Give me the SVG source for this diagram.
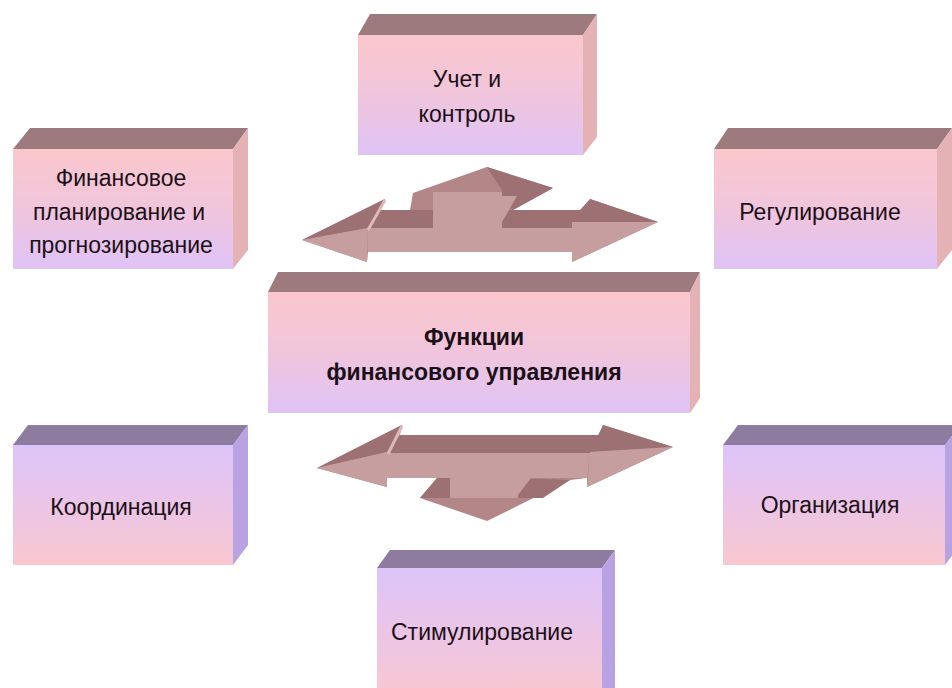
<svg xmlns="http://www.w3.org/2000/svg" width="952" height="688" viewBox="0 0 952 688">
<defs>
<linearGradient id="gPink" x1="0" y1="0" x2="0" y2="1">
<stop offset="0" stop-color="#fac7cc"/>
<stop offset="0.5" stop-color="#f0c5dc"/>
<stop offset="1" stop-color="#dfc3f6"/>
</linearGradient>
<linearGradient id="gLav" x1="0" y1="0" x2="0" y2="1">
<stop offset="0" stop-color="#dcc4fa"/>
<stop offset="0.5" stop-color="#ebc5e6"/>
<stop offset="1" stop-color="#f9c7cf"/>
</linearGradient>
<style>
.tp{fill:#9c7a7e}
.sp{fill:#e4b1b4}
.tl{fill:#8d7ba0}
.sl{fill:#b8a2e2}
.fp{fill:url(#gPink)}
.fl{fill:url(#gLav)}
text{font-family:"Liberation Sans",Arial,sans-serif;font-size:23px;fill:#1c1018;text-anchor:middle}
.b{font-weight:bold}
.am{fill:#b38687}
.ad{fill:#9d7073}
.al{fill:#c79e9f}
.ah{stroke:#dcb9ba;stroke-width:3;fill:none}
</style>
</defs>
<rect width="952" height="688" fill="#ffffff"/>

<g id="connectors">
<g id="arrow-top">
<polygon class="am" points="302,240 385,199 378,210 410,210 413,193 487,167 553,188 513,210 588,210 590,199 658,222 572,262 572,252 368,252 367,262"/>
<polygon class="ad" points="302,240 385,199 368,228"/>
<polygon class="ad" points="378,210 433,210 433,228 370,228"/>
<polygon class="ad" points="502,210 588,210 582,228 502,228"/>
<polygon class="ad" points="590,199 658,222 572,222 580,210"/>
<polygon class="ad" points="487,167 553,188 513,210 502,205 502,190"/>
<polygon class="al" points="302,240 368,228 367,262"/>
<polygon class="al" points="368,228 582,228 572,252 368,252"/>
<polygon class="al" points="572,222 658,222 572,262"/>
<polygon class="al" points="433,192 502,192 502,252 433,252"/>
<polygon class="al" points="502,196 517,196 502,222"/>
<line class="ah" x1="385" y1="200" x2="368" y2="230"/>
</g>
<g id="arrow-bottom">
<polygon class="am" points="317,468 402,425 400,435 600,435 603,425 673,447 587,487 587,478 570,480 487,521 420,498 437,478 387,478 387,487"/>
<polygon class="ad" points="317,468 402,425 387,452"/>
<polygon class="ad" points="603,425 673,447 590,452"/>
<polygon class="ad" points="400,435 600,435 590,453 387,453"/>
<polygon class="ad" points="437,478 450,478 450,498 420,498"/>
<polygon class="ad" points="518,478 570,480 543,498 518,498"/>
<polygon class="al" points="317,468 387,452 387,487"/>
<polygon class="al" points="590,452 673,447 587,487"/>
<polygon class="al" points="387,453 590,453 587,478 387,478"/>
<polygon class="al" points="450,453 518,453 518,498 450,498"/>
<polygon class="al" points="518,478 531,478 518,495"/>
<line class="ah" x1="402" y1="426" x2="388" y2="454"/>
</g>
</g>

<g id="node-uchet">
<polygon class="tp" points="358,35 370,14 597,14 583,35"/>
<polygon class="sp" points="583,35 597,14 597,137 583,155"/>
<rect class="fp" x="358" y="35" width="225" height="120"/>
<text x="467" y="87">Учет и</text>
<text x="467" y="122">контроль</text>
</g>

<g id="node-plan">
<polygon class="tp" points="13,149 30,128 248,128 233,149"/>
<polygon class="sp" points="233,149 248,128 248,250 233,269"/>
<rect class="fp" x="13" y="149" width="220" height="120"/>
<text x="121" y="186">Финансовое</text>
<text x="119" y="220">планирование и</text>
<text x="121" y="253">прогнозирование</text>
</g>

<g id="node-reg">
<polygon class="tp" points="714,149 728,128 952,128 937,149"/>
<polygon class="sp" points="937,149 952,128 952,250 937,269"/>
<rect class="fp" x="714" y="149" width="223" height="120"/>
<text x="820" y="220">Регулирование</text>
</g>

<g id="node-center">
<polygon class="tp" points="268,292 278,272 700,272 690,292"/>
<polygon class="sp" points="690,292 700,272 700,398 690,413"/>
<rect class="fp" x="268" y="292" width="422" height="121"/>
<text class="b" x="474" y="345">Функции</text>
<text class="b" x="474" y="380">финансового управления</text>
</g>

<g id="node-koord">
<polygon class="tl" points="13,445 28,425 248,425 233,445"/>
<polygon class="sl" points="233,445 248,425 248,545 233,565"/>
<rect class="fl" x="13" y="445" width="220" height="120"/>
<text x="121" y="515">Координация</text>
</g>

<g id="node-org">
<polygon class="tl" points="723,445 738,425 960,425 945,445"/>
<polygon class="sl" points="945,445 960,425 960,545 945,565"/>
<rect class="fl" x="723" y="445" width="222" height="120"/>
<text x="830" y="513">Организация</text>
</g>

<g id="node-stim">
<polygon class="tl" points="377,568 390,550 615,550 602,568"/>
<polygon class="sl" points="602,568 615,550 615,700 602,700"/>
<rect class="fl" x="377" y="568" width="225" height="130"/>
<text x="482" y="640">Стимулирование</text>
</g>
</svg>
